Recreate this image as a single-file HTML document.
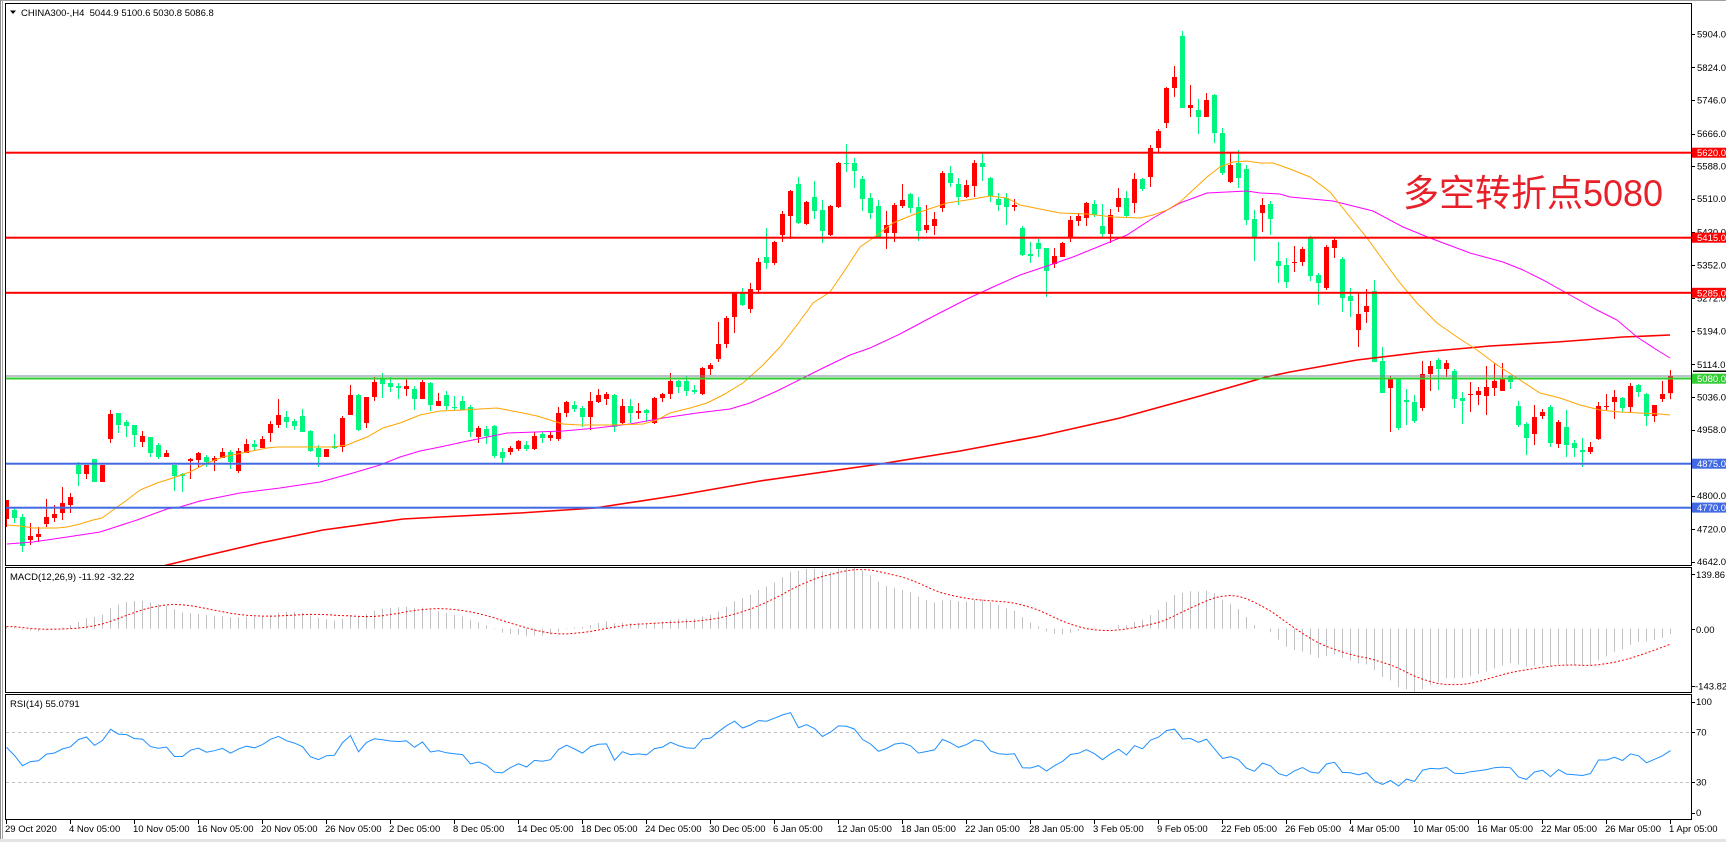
<!DOCTYPE html>
<html><head><meta charset="utf-8">
<style>
html,body{margin:0;padding:0;background:#fff;}
svg{display:block;}
text{font-family:"Liberation Sans",sans-serif;font-size:9.5px;fill:#000;}
</style></head><body>
<svg id="c" width="1726" height="842" xmlns="http://www.w3.org/2000/svg">
<defs>
<clipPath id="cm"><rect x="6" y="4" width="1685" height="561"/></clipPath>
<clipPath id="cd"><rect x="6" y="568" width="1685" height="124"/></clipPath>
<clipPath id="cr"><rect x="6" y="695" width="1685" height="124"/></clipPath>
</defs>
<rect width="1726" height="842" fill="#fff"/>
<rect x="0" y="0" width="1726" height="1" fill="#a0a0a0"/>
<rect x="0" y="0" width="1" height="842" fill="#8a8a8a"/>
<rect x="2" y="0" width="1" height="842" fill="#a8a8a8"/>
<rect x="0" y="839" width="1726" height="3" fill="#e4e4e4"/>

<g clip-path="url(#cm)">
  <g id="candles"></g>
  <g id="mas"></g>
  <rect x="6" y="151.7" width="1685" height="2" fill="#ff0000"/>
  <rect x="6" y="236.7" width="1685" height="2" fill="#ff0000"/>
  <rect x="6" y="291.8" width="1685" height="2" fill="#ff0000"/>
  <rect x="6" y="375.5" width="1685" height="1" fill="#778899"/>
  <rect x="6" y="377.5" width="1685" height="2" fill="#32cd32"/>
  <rect x="6" y="462.7" width="1685" height="2" fill="#4169e1"/>
  <rect x="6" y="506.7" width="1685" height="2" fill="#4169e1"/>
</g>
<g clip-path="url(#cd)"><g id="macd"></g></g>
<g clip-path="url(#cr)">
  <line x1="6" y1="732.5" x2="1691" y2="732.5" stroke="#c0c0c0" stroke-dasharray="3,3"/>
  <line x1="6" y1="782.5" x2="1691" y2="782.5" stroke="#c0c0c0" stroke-dasharray="3,3"/>
  <g id="rsi"></g>
</g>

<rect x="5.5" y="3.5" width="1686" height="562" fill="none" stroke="#000"/>
<rect x="5.5" y="567.5" width="1686" height="125" fill="none" stroke="#000"/>
<rect x="5.5" y="694.5" width="1686" height="125" fill="none" stroke="#000"/>
<g id="ticks" stroke="#000"></g>

<polygon points="10,10.5 16,10.5 13,14" fill="#000"/>
<text x="21" y="16" xml:space="preserve">CHINA300-,H4  5044.9 5100.6 5030.8 5086.8</text>
<text x="10" y="580">MACD(12,26,9) -11.92 -32.22</text>
<text x="10" y="707">RSI(14) 55.0791</text>

<text x="1403" y="206" textLength="260" lengthAdjust="spacingAndGlyphs" style="font-family:'Liberation Sans','Noto Sans CJK SC',sans-serif;font-size:37px;fill:#e8202a;">多空转折点5080</text>

<g>
<text x="1697" y="37.5">5904.0</text>
<text x="1697" y="71">5824.0</text>
<text x="1697" y="103.6">5746.0</text>
<text x="1697" y="137">5666.0</text>
<text x="1697" y="169.6">5588.0</text>
<text x="1697" y="202.2">5510.0</text>
<text x="1697" y="235.7">5430.0</text>
<text x="1697" y="268.3">5352.0</text>
<text x="1697" y="301.7">5272.0</text>
<text x="1697" y="334.4">5194.0</text>
<text x="1697" y="367.8">5114.0</text>
<text x="1697" y="400.4">5036.0</text>
<text x="1697" y="433">4958.0</text>
<text x="1697" y="499.1">4800.0</text>
<text x="1697" y="532.5">4720.0</text>
<text x="1697" y="565.1">4642.0</text>
</g>
<rect x="1693" y="370.5" width="33" height="1.5" fill="#000"/>
<g>
<rect x="1692" y="147.7" width="34" height="10" fill="#ff0000"/><text x="1697" y="156.2" style="fill:#fff">5620.0</text>
<rect x="1692" y="232.7" width="34" height="10" fill="#ff0000"/><text x="1697" y="241.2" style="fill:#fff">5415.0</text>
<rect x="1692" y="287.8" width="34" height="10" fill="#ff0000"/><text x="1697" y="296.3" style="fill:#fff">5285.0</text>
<rect x="1692" y="373.7" width="34" height="10" fill="#32cd32"/><text x="1697" y="382.2" style="fill:#fff">5080.0</text>
<rect x="1692" y="458.7" width="34" height="10" fill="#4169e1"/><text x="1697" y="467.2" style="fill:#fff">4875.0</text>
<rect x="1692" y="502.6" width="34" height="10" fill="#4169e1"/><text x="1697" y="511.1" style="fill:#fff">4770.0</text>
</g>
<g>
<text x="1696" y="578">139.86</text>
<text x="1696" y="633">0.00</text>
<text x="1695" y="689.5">-143.82</text>
<text x="1696" y="705">100</text>
<text x="1696" y="735.5">70</text>
<text x="1696" y="785.5">30</text>
<text x="1696" y="816">0</text>
</g>
<g>
<text x="5" y="832">29 Oct 2020</text>
<text x="69" y="832">4 Nov 05:00</text>
<text x="133" y="832">10 Nov 05:00</text>
<text x="197" y="832">16 Nov 05:00</text>
<text x="261" y="832">20 Nov 05:00</text>
<text x="325" y="832">26 Nov 05:00</text>
<text x="389" y="832">2 Dec 05:00</text>
<text x="453" y="832">8 Dec 05:00</text>
<text x="517" y="832">14 Dec 05:00</text>
<text x="581" y="832">18 Dec 05:00</text>
<text x="645" y="832">24 Dec 05:00</text>
<text x="709" y="832">30 Dec 05:00</text>
<text x="773" y="832">6 Jan 05:00</text>
<text x="837" y="832">12 Jan 05:00</text>
<text x="901" y="832">18 Jan 05:00</text>
<text x="965" y="832">22 Jan 05:00</text>
<text x="1029" y="832">28 Jan 05:00</text>
<text x="1093" y="832">3 Feb 05:00</text>
<text x="1157" y="832">9 Feb 05:00</text>
<text x="1221" y="832">22 Feb 05:00</text>
<text x="1285" y="832">26 Feb 05:00</text>
<text x="1349" y="832">4 Mar 05:00</text>
<text x="1413" y="832">10 Mar 05:00</text>
<text x="1477" y="832">16 Mar 05:00</text>
<text x="1541" y="832">22 Mar 05:00</text>
<text x="1605" y="832">26 Mar 05:00</text>
<text x="1669" y="832">1 Apr 05:00</text>
</g>
</svg>
<script>
(function(){
var D=[
['r',500,519,500,527],['g',510,518,507,523],['g',517,546,514,552],['r',536,540,523,545],['r',534,537,527,542],
['r',517,524,499,527],['r',514,518,505,522],['r',503,513,487,520],['r',497,505,493,513],['g',465,474,462,486],
['r',465,474,465,479],['g',459,482,459,482],['r',465,482,465,482],['r',414,439,410,443],['g',413,425,413,433],
['g',422,426,420,437],['g',425,435,425,447],['r',436,442,431,447],['g',437,453,437,457],['g',445,457,443,459],
['r',453,457,450,457],['g',465,476,465,491],['g',474,476,473,492],['r',459,461,458,479],['r',453,460,452,467],
['g',457,462,455,467],['r',458,461,456,471],['r',452,458,448,458],['g',452,462,450,469],['r',451,471,448,473],
['r',444,453,439,453],['g',444,447,440,450],['r',439,448,436,448],['r',424,433,421,442],['r',415,425,399,428],
['g',417,422,411,428],['g',421,426,419,430],['g',416,432,409,432],['g',431,451,430,452],['g',448,457,445,467],
['r',449,457,449,457],['g',446,448,434,449],['r',418,447,416,452],['r',395,415,385,415],['g',395,430,394,431],
['r',397,423,397,428],['r',382,397,377,401],['g',379,384,373,398],['g',383,387,377,392],['g',386,388,383,399],
['r',386,389,379,396],['g',389,399,386,410],['r',382,399,380,399],['g',383,405,382,411],['r',401,406,393,406],
['g',395,406,391,410],['g',407,408,396,410],['g',401,410,396,410],['g',407,432,405,437],['r',428,437,426,443],
['g',429,436,426,444],['g',426,456,425,458],['g',452,458,448,463],['r',448,452,446,455],['r',441,449,440,451],
['g',445,449,441,451],['r',436,449,432,450],['g',434,438,432,443],['r',435,438,432,441],['r',413,439,407,441],
['r',402,413,401,417],['g',405,409,401,412],['g',408,417,406,427],['r',401,417,392,430],['r',395,402,389,403],
['r',394,399,392,405],['g',395,427,394,432],['r',406,423,399,424],['g',406,413,399,423],['r',411,413,403,419],
['g',410,413,409,422],['r',398,423,397,424],['r',394,398,393,402],['r',381,394,373,399],['g',381,387,380,393],
['g',381,391,376,396],['g',390,392,385,394],['r',368,394,367,395],['r',365,369,363,375],['r',344,359,322,362],
['r',318,344,316,348],['r',293,317,292,333],['g',293,305,288,306],['r',289,309,283,313],['r',262,290,258,292],
['g',257,263,228,269],['r',242,263,241,265],['r',214,235,211,242],['r',191,216,190,239],['g',184,223,177,224],
['r',202,224,201,225],['g',197,211,181,219],['g',210,231,200,243],['r',206,235,205,236],['r',163,207,162,208],
['g',163,164,144,172],['g',163,171,158,188],['g',179,199,176,211],['g',198,213,193,219],['g',206,237,200,238],
['r',225,233,211,249],['r',205,233,203,242],['r',200,206,184,208],['g',194,208,193,213],['g',207,231,197,241],
['r',225,230,205,233],['r',219,226,212,235],['r',173,208,171,212],['g',173,183,166,187],['g',184,197,178,205],
['r',185,197,180,198],['r',163,186,160,197],['g',163,167,153,181],['g',178,196,177,202],['g',199,205,193,211],
['g',198,207,193,225],['r',205,207,199,211],['g',228,255,226,256],['g',254,256,242,263],['g',243,249,239,257],
['g',248,271,248,297],['r',256,264,248,268],['r',243,257,242,257],['r',220,237,216,242],['r',216,221,213,226],
['r',203,218,202,226],['g',204,215,200,217],['g',226,234,204,237],['r',215,234,209,243],['r',198,207,188,212],
['g',198,216,191,217],['r',179,203,173,213],['g',179,189,178,191],['r',148,177,145,187],['r',131,148,129,153],
['r',88,123,87,128],['r',77,88,66,97],['g',36,108,31,108],['r',105,108,85,117],['g',110,117,99,134],
['r',100,117,93,117],['g',95,133,94,143],['g',133,173,128,175],['r',165,182,153,183],['g',163,178,150,188],
['g',169,220,165,225],['g',219,237,210,261],['r',205,213,198,232],['g',204,219,201,235],['g',261,266,242,283],
['g',265,282,258,288],['r',262,263,246,272],['r',249,262,247,266],['g',237,276,236,281],['g',275,283,273,305],
['r',247,288,245,290],['r',240,248,237,258],['g',259,298,257,312],['g',296,301,288,317],['r',314,330,293,347],
['r',306,312,289,323],['g',291,362,280,362],['g',361,393,347,393],['r',379,388,376,432],['g',378,428,378,430],
['g',400,402,389,425],['g',402,421,395,423],['r',374,408,361,411],['r',366,374,361,391],['g',360,369,358,390],
['r',363,369,360,377],['g',371,399,369,408],['g',398,401,392,424],['r',394,395,382,412],['r',391,395,387,405],
['r',387,396,366,415],['r',381,388,363,396],['r',379,391,363,391],['g',376,382,375,389],['g',406,425,401,427],
['g',424,438,422,455],['r',417,434,405,445],['r',412,416,409,419],['g',407,443,405,447],['r',422,444,420,448],
['g',427,445,410,457],['g',443,448,440,457],['g',450,452,438,467],['r',447,452,442,454],['r',406,439,402,440],
['r',406,407,394,410],['r',397,402,390,419],['g',398,408,397,412],['r',386,407,383,412],['g',385,392,384,397],
['g',394,416,393,426],['r',405,416,405,422],['r',394,399,381,402],['r',375.7,393.2,369.9,399.2]
];
var K=0.4181;function P(y){return 5904-(y-34)/K;}
var s='';
for(var i=0;i<D.length;i++){
  var d=D[i],c=6+8*i,col=d[0]==='r'?'#ff0000':'#00f57f';
  s+='<rect x="'+c+'" y="'+d[3]+'" width="1" height="'+Math.max(1,d[4]-d[3])+'" fill="'+col+'"/>';
  s+='<rect x="'+(c-2)+'" y="'+d[1]+'" width="5" height="'+Math.max(1,d[2]-d[1])+'" fill="'+col+'"/>';
}
document.getElementById('candles').innerHTML=s;

var OR=[[7,525],[20,526],[33,528],[57,528],[67,527],[80,524],[93,520],[102,518],[113,510],[127,500],[140,490],[157,483],[173,478],[190,472],[207,463],[223,457],[247,452],[267,448],[277,447],[307,447],[333,447],[347,445],[367,437],[383,428],[400,423],[420,415],[440,411],[463,410],[497,408],[523,413],[537,416],[563,424],[580,425],[613,425],[643,424],[657,420],[670,413],[690,408],[707,403],[723,395],[743,383],[763,365],[780,347],[797,325],[813,303],[830,292],[847,267],[860,247],[873,238],[893,223],[920,212],[947,203],[967,200],[990,196],[1007,198],[1020,205],[1040,209],[1060,213],[1087,214],[1113,217],[1140,218],[1153,215],[1167,210],[1180,202],[1193,190],[1207,177],[1220,167],[1233,162],[1247,161],[1260,163],[1273,163],[1290,169],[1310,177],[1330,192],[1350,217],[1367,238],[1383,260],[1400,283],[1417,303],[1437,323],[1457,337],[1477,350],[1497,365],[1520,380],[1540,393],[1560,398],[1580,405],[1600,410],[1620,412],[1640,413],[1660,414],[1670,415]];
var MG=[[7,544],[33,542],[67,537],[100,532],[137,520],[167,509],[180,507],[200,501],[240,493],[280,488],[320,482],[353,473],[380,465],[400,457],[420,451],[440,447],[463,442],[507,433],[563,431],[597,428],[630,424],[663,418],[697,413],[730,409],[750,403],[777,391],[803,378],[823,368],[850,355],[870,348],[900,334],[930,318],[967,299],[993,287],[1020,275],[1047,266],[1073,257],[1100,246],[1127,235],[1153,218],[1180,203],[1207,193],[1227,192],[1247,191],[1260,193],[1280,194],[1290,197],[1333,201],[1373,211],[1403,227],[1430,238],[1470,253],[1503,262],[1523,270],[1543,280],[1570,295],[1597,310],[1617,320],[1637,337],[1657,350],[1670,358]];
var RD=[[163,566],[200,557],[260,543],[323,530],[403,519],[440,517],[520,513],[595,508],[680,495],[760,481],[880,464],[960,451],[1040,436],[1120,418],[1200,396],[1266,377],[1290,372],[1357,360],[1423,352],[1490,346],[1557,342],[1623,337],[1670,335]];
function pts(a){return a.map(function(p){return p[0]+','+p[1];}).join(' ');}
document.getElementById('mas').innerHTML=
 '<polyline points="'+pts(RD)+'" fill="none" stroke="#ff0000" stroke-width="1.6"/>'+
 '<polyline points="'+pts(MG)+'" fill="none" stroke="#ff00ff" stroke-width="1"/>'+
 '<polyline points="'+pts(OR)+'" fill="none" stroke="#ffa500" stroke-width="1"/>';

var cl=D.map(function(d){return P(d[0]==='r'?d[1]:d[2]);});
var base=(cl[0]+cl[1]+cl[2])/3;
var e12=base,e26=base,a12=2/13,a26=2/27,mc=[],sg=[];
for(i=0;i<cl.length;i++){
  e12+=a12*(cl[i]-e12);e26+=a26*(cl[i]-e26);
  mc.push(e12-e26);
  var st=Math.max(0,i-8),sm=0;for(var j=st;j<=i;j++)sm+=mc[j];sg.push(sm/(i-st+1));
}
var mx=0,mn=0;
for(i=0;i<cl.length;i++){mx=Math.max(mx,mc[i],sg[i]);mn=Math.min(mn,mc[i],sg[i]);}
function ym(v){return v>=0?628.6-v*(61.4/mx):628.6+v*(63.4/mn);}
var h='';
for(i=0;i<cl.length;i++){var x=6+8*i+0.5;h+='<line x1="'+x+'" y1="628.6" x2="'+x+'" y2="'+ym(mc[i]).toFixed(1)+'" stroke="#c0c0c0"/>';}
var sp=[];for(i=0;i<cl.length;i++)sp.push([6+8*i+0.5,ym(sg[i]).toFixed(1)]);
h+='<polyline points="'+pts(sp)+'" fill="none" stroke="#ff0000" stroke-dasharray="2,2"/>';
document.getElementById('macd').innerHTML=h;

var ag=15,al=11,rp=[];
for(i=0;i<cl.length;i++){
  if(i>0){var ch=cl[i]-cl[i-1];ag=(ag*13+Math.max(ch,0))/14;al=(al*13+Math.max(-ch,0))/14;}
  var r=100-100/(1+ag/al);
  rp.push([6+8*i+0.5,(819.5-1.25*r).toFixed(1)]);
}
document.getElementById('rsi').innerHTML='<polyline points="'+pts(rp)+'" fill="none" stroke="#1e90ff" stroke-width="1"/>';

var t='';
var py=[34,67.4,100.1,133.5,166.1,198.7,232.2,264.8,298.2,330.9,364.3,396.9,429.5,463,495.6,529,561.6];
py.forEach(function(y){t+='<line x1="1691" y1="'+(Math.round(y)+0.5)+'" x2="1695" y2="'+(Math.round(y)+0.5)+'"/>';});
[629,574,686].forEach(function(y){t+='<line x1="1691" y1="'+(y+0.5)+'" x2="1695" y2="'+(y+0.5)+'"/>';});
[702,732,782,813].forEach(function(y){t+='<line x1="1691" y1="'+(y+0.5)+'" x2="1695" y2="'+(y+0.5)+'"/>';});
for(var k=0;k<27;k++){var xx=6+64*k+0.5;t+='<line x1="'+xx+'" y1="819" x2="'+xx+'" y2="824"/>';}
document.getElementById('ticks').innerHTML=t;
})();
</script>
</body></html>
